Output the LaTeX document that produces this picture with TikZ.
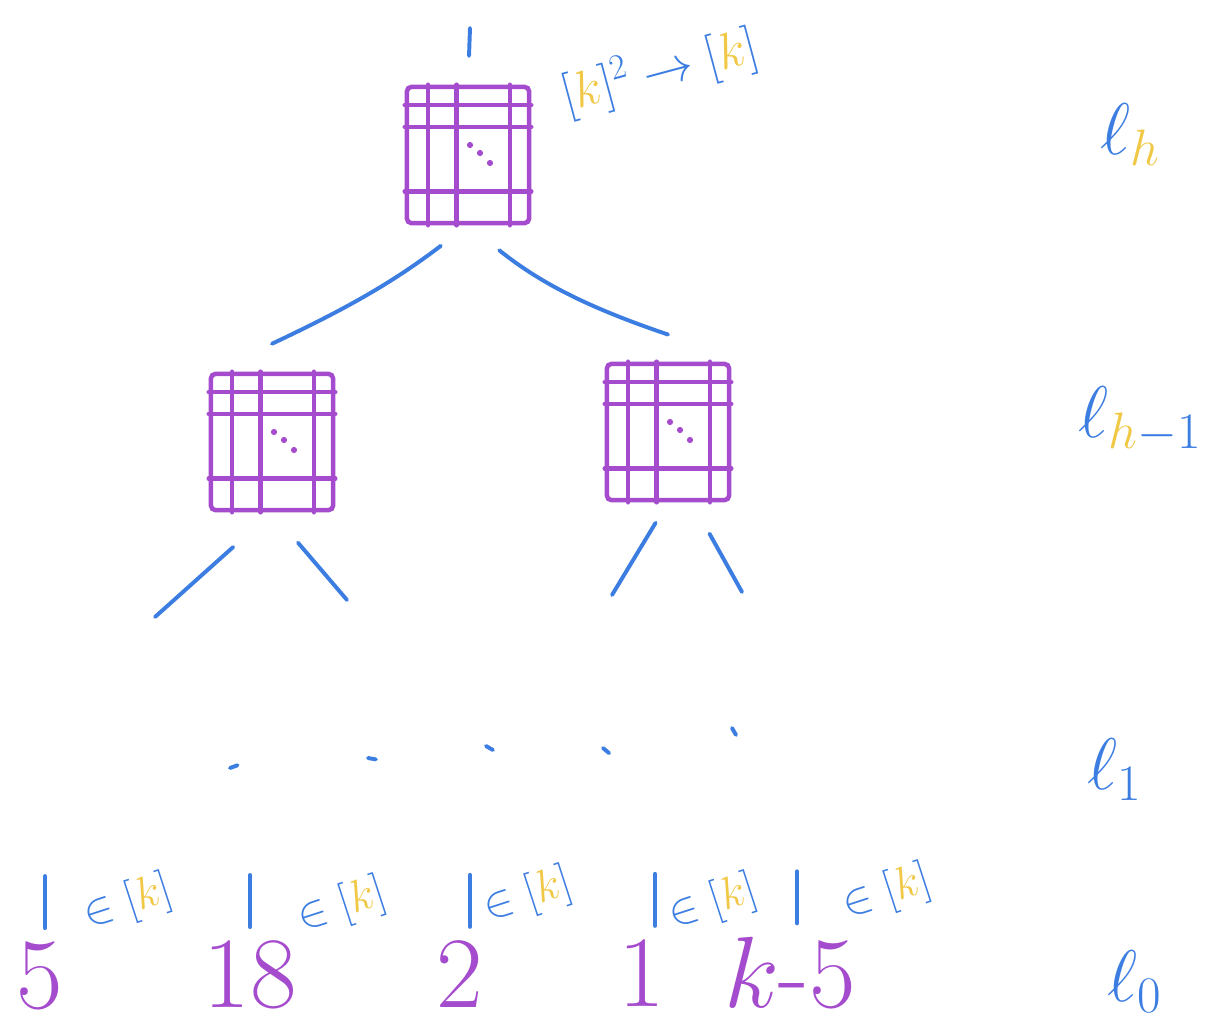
\RequirePackage{fix-cm}
\documentclass[tikz,border=0pt]{standalone}
\usetikzlibrary{positioning,calc}
\definecolor{penblue}{RGB}{60,125,225}
\definecolor{penpurple}{RGB}{165,75,205}
\definecolor{penyellow}{RGB}{240,200,70}
\tikzset{
  gate/.style={rectangle,draw=penpurple,line width=3.2pt,rounded corners=3pt,
               minimum width=3.05cm,minimum height=3.4cm,inner sep=0pt},
  gateline/.style={penpurple,line width=3.2pt,line cap=round},
  wire/.style={penblue,line width=2.8pt,line cap=round},
  member/.style={penblue,rotate=18,inner sep=1pt,font=\fontsize{32}{38}\selectfont},
  count/.style={penpurple,inner sep=1pt,font=\fontsize{72}{80}\selectfont},
  level/.style={penblue,font=\fontsize{52}{60}\selectfont},
}
\newcommand{\kk}{\textcolor{penyellow}{k}}
% inner lines of a gate table
\newcommand{\gatelines}[1]{%
  \foreach \f in {0.185,0.41,0.83}
    \draw[gateline] ($(#1.north west)!\f!(#1.north east)$) -- ($(#1.south west)!\f!(#1.south east)$);
  \foreach \f in {0.145,0.30,0.76}
    \draw[gateline] ($(#1.north west)!\f!(#1.south west)$) -- ($(#1.north east)!\f!(#1.south east)$);
  \foreach \dx/\dy in {2/-10,12/-2,22/8}
    \fill[penpurple] ([shift={(\dx,\dy)}]#1.center) circle (2.2pt);
}

\begin{document}
\begin{tikzpicture}[x=0.025cm,y=-0.025cm]
  \useasboundingbox (0,0) rectangle (1210,1028);

  % gates
  \node[gate] (root)  at (468,155) {};
  \node[gate] (left)  at (272,442) {};
  \node[gate] (right) at (668,432) {};
  \gatelines{root}
  \gatelines{left}
  \gatelines{right}

  \node[penblue,rotate=15,inner sep=1pt,font=\fontsize{36}{42}\selectfont] (sig) at (660,72)
      {$[\kk]^2\to[\kk]$};

  % wires
  \coordinate (out) at (470,28);
  \draw[wire,shorten <=0.72cm] (root.north) -- (out);
  \draw[wire,shorten <=0.85cm] (root.south) to[bend left=6] ([yshift=0.7cm]left.north);
  \draw[wire,shorten <=1cm] (root.south) to[bend right=10] ([yshift=0.68cm]right.north);

  \coordinate (ll) at (155,617);
  \coordinate (lr) at (347,600);
  \coordinate (rl) at (612,595);
  \coordinate (rr) at (742,592);
  \draw[wire,shorten <=1.3cm] (left.south) -- (ll);
  \draw[wire,shorten <=1cm] (left.south) -- (lr);
  \draw[wire,shorten <=0.6cm] (right.south) -- (rl);
  \draw[wire,shorten <=0.9cm] ([xshift=0.6cm]right.south) -- (rr);

  % elided levels
  \foreach \x/\y/\a in {230/768/20,368/758/-10,486/746/-30,603/748/-40,732/728/-60}
    \draw[wire] (\x,\y) -- ++(\a:0.2cm);

  % leaves
  \node[count] (n1) at (40,976)  {5};
  \node[count] (n2) at (250,975) {18};
  \node[count] (n3) at (460,974) {2};
  \node[count] (n4) at (642,973) {1};
  \node[count] (n5) at (790,973) {$k$-5};

  \foreach \n/\dx in {n1/5,n2/0,n3/10,n4/13,n5/7}
    \draw[wire] ([xshift=\dx*0.025cm,yshift=0.3cm]\n.north) -- ++(0,-52);

  \node[member] (m1) at (128,903) {$\in[\kk]$};
  \node[member] (m2) at (342,906) {$\in[\kk]$};
  \node[member] (m3) at (528,896) {$\in[\kk]$};
  \node[member] (m4) at (713,903) {$\in[\kk]$};
  \node[member] (m5) at (887,893) {$\in[\kk]$};

  % levels
  \node[level] (lh)  at (1130,135) {$\ell_{\textcolor{penyellow}{h}}$};
  \node[level] (lh1) at (1140,420) {$\ell_{\textcolor{penyellow}{h}-1}$};
  \node[level] (l1)  at (1115,770) {$\ell_1$};
  \node[level] (l0)  at (1135,982) {$\ell_0$};
\end{tikzpicture}
\end{document}
